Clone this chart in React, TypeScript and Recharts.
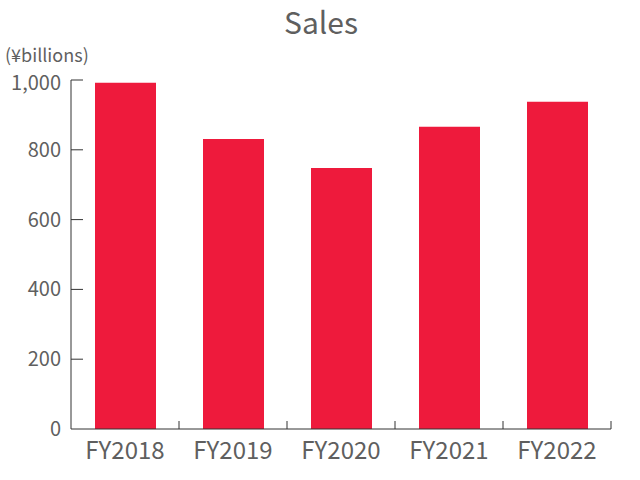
import React from 'react';
import { BarChart, Bar, XAxis, YAxis } from 'recharts';

const years = ['FY2018', 'FY2019', 'FY2020', 'FY2021', 'FY2022'];
const sales = [992, 831, 748, 866, 938];
const yTicks = [0, 200, 400, 600, 800, 1000];

const data = years.map((year, i) => ({ year, sales: sales[i] }));

const FONT = '"Noto Sans CJK JP", "Noto Sans", sans-serif';
const TEXT = '#5f5f5f';
const AXIS = '#333333';
const BAND = 108;

const YTick = (props: any) => {
  const { x, y, payload } = props;
  const top = payload.value === 1000;
  return (
    <g>
      {payload.value !== 0 && (
        <line x1={x} x2={x + 12} y1={y} y2={y} stroke={AXIS} strokeWidth={1} />
      )}
      <text x={x - 10} y={y} dy={top ? 10 : 7} textAnchor="end" fill={TEXT} fontSize={20} fontFamily={FONT}>
        {payload.value.toLocaleString('en-US')}
      </text>
    </g>
  );
};

const XTick = (props: any) => {
  const { x, y, payload } = props;
  return (
    <g>
      <line x1={x + BAND / 2} x2={x + BAND / 2} y1={y} y2={y - 8} stroke={AXIS} strokeWidth={1} />
      <text x={x} y={y} dy={30} textAnchor="middle" fill={TEXT} fontSize={24} fontFamily={FONT}>
        {payload.value}
      </text>
    </g>
  );
};

export default function App() {
  return (
    <div style={{ position: 'absolute', left: 0, top: 0, width: 640, height: 480, background: '#fff' }}>
      <div
        style={{
          position: 'absolute', left: 0, top: 1, width: 642, textAlign: 'center',
          fontFamily: FONT, fontSize: 30, color: TEXT, lineHeight: '40px',
        }}
      >
        Sales
      </div>
      <div
        style={{
          position: 'absolute', left: 5, top: 44, fontFamily: FONT, fontSize: 18,
          color: TEXT, lineHeight: '20px', whiteSpace: 'nowrap',
        }}
      >
        (¥billions)
      </div>
      <BarChart
        width={640}
        height={480}
        data={data}
        margin={{ top: 80, right: 29, bottom: 0, left: 0 }}
        barSize={61}
      >
        <YAxis
          width={71}
          domain={[0, 1000]}
          ticks={yTicks}
          interval={0}
          tickLine={false}
          tickSize={0}
          tickMargin={0}
          axisLine={{ stroke: AXIS }}
          tick={<YTick />}
        />
        <XAxis
          dataKey="year"
          height={51}
          tickLine={false}
          tickSize={0}
          tickMargin={0}
          axisLine={{ stroke: AXIS }}
          tick={<XTick />}
          interval={0}
        />
        <Bar dataKey="sales" fill="#ee1a3c" isAnimationActive={false} />
      </BarChart>
    </div>
  );
}
